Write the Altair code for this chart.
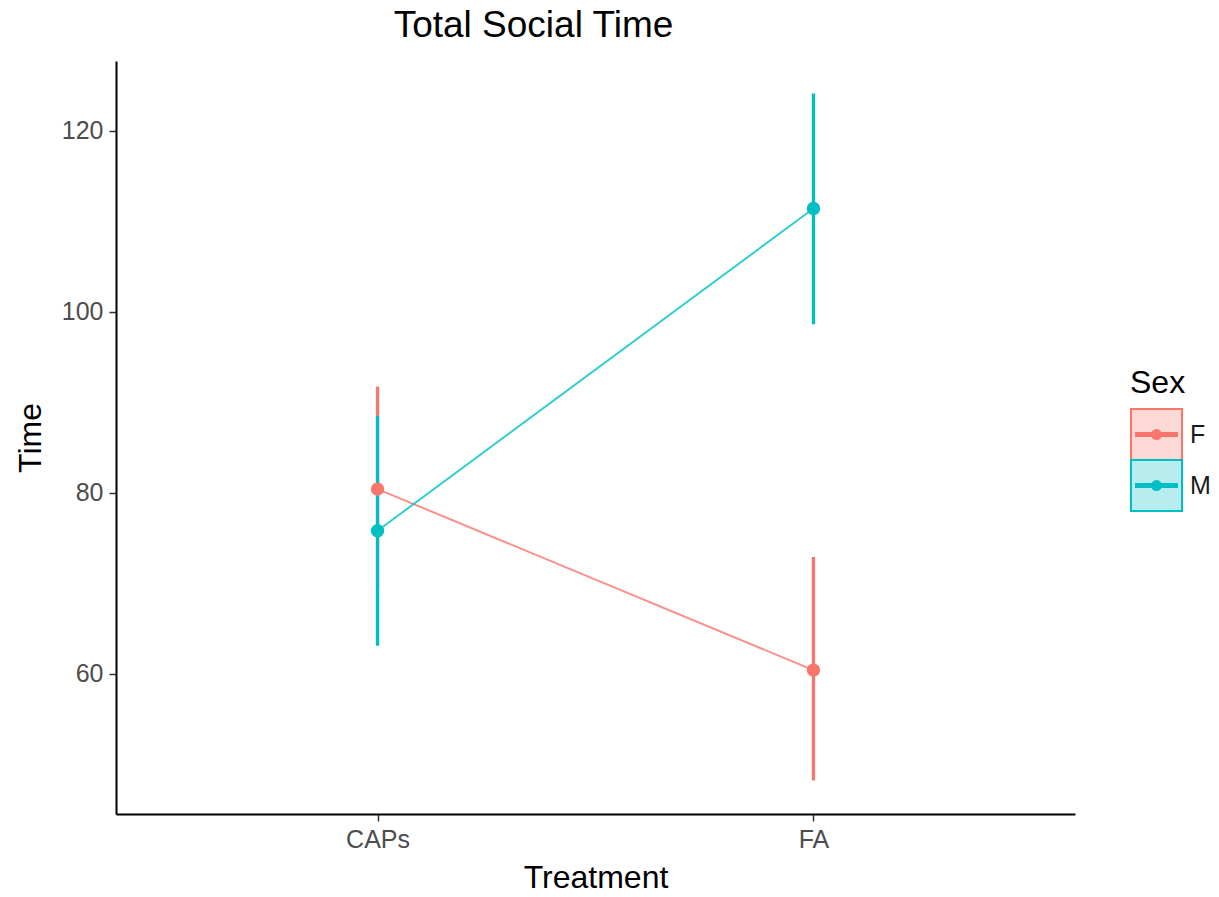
import altair as alt
import pandas as pd

treatments = ["CAPs", "FA"]
sexes = ["F", "M"]
F_mean = [80.4, 60.4]
F_lo = [69.4, 48.2]
F_hi = [91.7, 72.9]
M_mean = [75.8, 111.4]
M_lo = [63.1, 98.6]
M_hi = [88.5, 124.1]
colors = ["#F8766D", "#00BFC4"]
y_ticks = [60, 80, 100, 120]

rows = []
for i, t in enumerate(treatments):
    rows.append({"Treatment": t, "Sex": "F", "Time": F_mean[i], "lo": F_lo[i], "hi": F_hi[i]})
for i, t in enumerate(treatments):
    rows.append({"Treatment": t, "Sex": "M", "Time": M_mean[i], "lo": M_lo[i], "hi": M_hi[i]})
df = pd.DataFrame(rows)

FONT = "Liberation Sans"
color_scale = alt.Scale(domain=sexes, range=colors)

x_enc = alt.X("Treatment:N", scale=alt.Scale(type="point", padding=0.6),
              axis=alt.Axis(title="Treatment", labelAngle=0))
y_scale = alt.Scale(domain=[44.5, 127.7], nice=False, zero=False)

base = alt.Chart(df)

lines = base.mark_line(strokeWidth=2, opacity=0.8).encode(
    x=x_enc,
    y=alt.Y("Time:Q", scale=y_scale, axis=alt.Axis(title="Time", values=y_ticks)),
    color=alt.Color("Sex:N", scale=color_scale, legend=None),
    detail="Sex:N",
)
rules = base.mark_rule(strokeWidth=3.3).encode(
    x=x_enc,
    y=alt.Y("lo:Q", scale=y_scale),
    y2="hi:Q",
    color=alt.Color("Sex:N", scale=color_scale, legend=None),
)
points = base.mark_point(filled=True, size=180, opacity=1).encode(
    x=x_enc,
    y=alt.Y("Time:Q", scale=y_scale),
    color=alt.Color("Sex:N", scale=color_scale, legend=None),
)

main = alt.layer(lines, rules, points).properties(
    width=959, height=753,
    title=alt.TitleParams("Total Social Time", fontSize=37, font=FONT, fontWeight="normal",
                          color="black", anchor="middle", dx=-62, offset=16),
)

# manual legend
leg_df = pd.DataFrame({"Sex": sexes})
leg_scale = alt.Scale(domain=sexes, paddingInner=0, paddingOuter=0.333, align=0)
leg_yc = alt.Y("Sex:N", scale=leg_scale, axis=None, bandPosition=0.5)
leg_color = alt.Color("Sex:N", scale=color_scale, legend=None)
leg_base = alt.Chart(leg_df)
boxes = leg_base.mark_rect(fillOpacity=0.28, strokeWidth=2).encode(
    y=alt.Y("Sex:N", scale=leg_scale, axis=None), x=alt.value(0), x2=alt.value(51),
    fill=leg_color, stroke=leg_color,
)
glines = leg_base.mark_rule(strokeWidth=5).encode(
    y=leg_yc, x=alt.value(4), x2=alt.value(47), color=leg_color,
)
gpts = leg_base.mark_point(filled=True, size=120, opacity=1).encode(
    y=leg_yc, x=alt.value(25.5), color=leg_color,
)
glabels = leg_base.mark_text(align="left", baseline="middle", fontSize=25, font=FONT, color="#1a1a1a").encode(
    y=leg_yc, x=alt.value(59), text="Sex:N",
)
legend = alt.layer(boxes, glines, gpts, glabels).properties(
    width=51, height=136,
    title=alt.TitleParams("Sex", fontSize=32, font=FONT, fontWeight="normal", color="black",
                          anchor="start", offset=8),
)

chart = alt.hconcat(main, legend, spacing=55, center=True).properties(
    padding={"left": 14, "top": 7, "right": 5, "bottom": 2}
).configure_view(stroke=None).configure_axis(
    grid=False,
    domainColor="black",
    domainWidth=2,
    tickColor="#333333",
    tickWidth=1.5,
    tickSize=7,
    labelFont=FONT,
    labelFontSize=25,
    labelColor="#4d4d4d",
    labelPadding=6,
    titleFont=FONT,
    titleFontSize=32,
    titleFontWeight="normal",
    titleColor="black",
).configure_axisY(titlePadding=14).configure_axisX(titlePadding=10)

chart.save("out.html", embed_options={"renderer": "svg", "actions": False})
